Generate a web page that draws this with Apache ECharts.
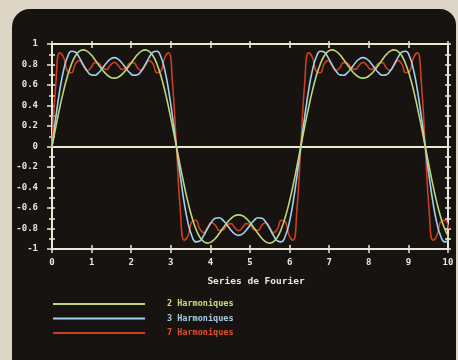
<!DOCTYPE html>
<html>
<head>
<meta charset="utf-8">
<script src="https://cdn.jsdelivr.net/npm/echarts@6/dist/echarts.min.js"></script>
<style>
  html, body { margin: 0; padding: 0; background: #ddd6c6; }
  #screen {
    position: absolute; left: 12px; top: 9px; width: 444px; height: 360px;
    background: #171311; border-radius: 18px 16px 0 0;
  }
  #chart { position: absolute; left: 0; top: 0; width: 458px; height: 360px; }
</style>
</head>
<body>
<div id="screen"></div>
<div id="chart"></div>
<script>
// x positions of the samples (read along the 0..10 axis)
const xs = [0, 0.098, 0.196, 0.295, 0.393, 0.491, 0.589, 0.687, 0.785, 0.884, 0.982, 1.080, 1.178, 1.276, 1.374, 1.473, 1.571,
  1.669, 1.767, 1.865, 1.963, 2.062, 2.160, 2.258, 2.356, 2.454, 2.553, 2.651, 2.749, 2.847, 2.945, 3.043, 3.142,
  3.240, 3.338, 3.436, 3.534, 3.632, 3.731, 3.829, 3.927, 4.025, 4.123, 4.222, 4.320, 4.418, 4.516, 4.614, 4.712,
  4.811, 4.909, 5.007, 5.105, 5.203, 5.301, 5.400, 5.498, 5.596, 5.694, 5.792, 5.890, 5.989, 6.087, 6.185, 6.283,
  6.381, 6.480, 6.578, 6.676, 6.774, 6.872, 6.970, 7.069, 7.167, 7.265, 7.363, 7.461, 7.559, 7.658, 7.756, 7.854,
  7.952, 8.050, 8.149, 8.247, 8.345, 8.443, 8.541, 8.639, 8.738, 8.836, 8.934, 9.032, 9.130, 9.228, 9.327, 9.425,
  9.523, 9.621, 9.719, 9.817, 9.916, 10.014];

const harm2 = [0, 0.195, 0.380, 0.548, 0.691, 0.803, 0.883, 0.928, 0.943, 0.930, 0.897, 0.849, 0.796, 0.745, 0.704, 0.676, 0.667,
  0.676, 0.704, 0.745, 0.796, 0.849, 0.897, 0.930, 0.943, 0.928, 0.883, 0.803, 0.691, 0.548, 0.380, 0.195, 0,
  -0.195, -0.380, -0.548, -0.691, -0.803, -0.883, -0.928, -0.943, -0.930, -0.897, -0.849, -0.796, -0.745, -0.704, -0.676, -0.667,
  -0.676, -0.704, -0.745, -0.796, -0.849, -0.897, -0.930, -0.943, -0.928, -0.883, -0.803, -0.691, -0.548, -0.380, -0.195, 0,
  0.195, 0.380, 0.548, 0.691, 0.803, 0.883, 0.928, 0.943, 0.930, 0.897, 0.849, 0.796, 0.745, 0.704, 0.676, 0.667,
  0.676, 0.704, 0.745, 0.796, 0.849, 0.897, 0.930, 0.943, 0.928, 0.883, 0.803, 0.691, 0.548, 0.380, 0.195, 0,
  -0.195, -0.380, -0.548, -0.691, -0.803, -0.883];

const harm3 = [0, 0.289, 0.547, 0.747, 0.875, 0.930, 0.922, 0.870, 0.801, 0.739, 0.700, 0.695, 0.720, 0.765, 0.815, 0.853, 0.867,
  0.853, 0.815, 0.765, 0.720, 0.695, 0.700, 0.739, 0.801, 0.870, 0.922, 0.930, 0.875, 0.747, 0.547, 0.289, 0,
  -0.289, -0.547, -0.747, -0.875, -0.930, -0.922, -0.870, -0.801, -0.739, -0.700, -0.695, -0.720, -0.765, -0.815, -0.853, -0.867,
  -0.853, -0.815, -0.765, -0.720, -0.695, -0.700, -0.739, -0.801, -0.870, -0.922, -0.930, -0.875, -0.747, -0.547, -0.289, 0,
  0.289, 0.547, 0.747, 0.875, 0.930, 0.922, 0.870, 0.801, 0.739, 0.700, 0.695, 0.720, 0.765, 0.815, 0.853, 0.867,
  0.853, 0.815, 0.765, 0.720, 0.695, 0.700, 0.739, 0.801, 0.870, 0.922, 0.930, 0.875, 0.747, 0.547, 0.289, 0,
  -0.289, -0.547, -0.747, -0.875, -0.930, -0.922];

const harm7 = [0, 0.619, 0.914, 0.868, 0.733, 0.719, 0.804, 0.840, 0.789, 0.741, 0.767, 0.818, 0.813, 0.765, 0.752, 0.792, 0.821,
  0.792, 0.752, 0.765, 0.813, 0.818, 0.767, 0.741, 0.789, 0.840, 0.804, 0.719, 0.733, 0.868, 0.914, 0.619, 0,
  -0.619, -0.914, -0.868, -0.733, -0.719, -0.804, -0.840, -0.789, -0.741, -0.767, -0.818, -0.813, -0.765, -0.752, -0.792, -0.821,
  -0.792, -0.752, -0.765, -0.813, -0.818, -0.767, -0.741, -0.789, -0.840, -0.804, -0.719, -0.733, -0.868, -0.914, -0.619, 0,
  0.619, 0.914, 0.868, 0.733, 0.719, 0.804, 0.840, 0.789, 0.741, 0.767, 0.818, 0.813, 0.765, 0.752, 0.792, 0.821,
  0.792, 0.752, 0.765, 0.813, 0.818, 0.767, 0.741, 0.789, 0.840, 0.804, 0.719, 0.733, 0.868, 0.914, 0.619, 0,
  -0.619, -0.914, -0.868, -0.733, -0.719, -0.804];

const names = ["2 Harmoniques", "3 Harmoniques", "7 Harmoniques"];
const lineColors = ["#bcd878", "#a0d2ee", "#cc3e20"];
const textColors = ["#cadd78", "#a8cce4", "#e0502c"];

const axisColor = "#ebe8d6";
const font = "DejaVu Sans Mono";

const pairs = (ys) => xs.map((x, i) => [x, ys[i]]);

const myChart = echarts.init(document.getElementById("chart"), null, { renderer: "canvas" });

// x axes: bottom (labels + outer ticks), bottom inner ticks, zero line, top frame
const xBase = { type: "value", min: 0, max: 10, interval: 1, splitLine: { show: false } };
const yBase = { type: "value", min: -1, max: 1, interval: 0.2, splitLine: { show: false } };
const line = { color: axisColor, width: 2 };
const tick = { color: axisColor, width: 1.5 };

let option = {
  animation: false,
  grid: { left: 52, right: 10, top: 44, bottom: 111 },
  legend: {
    orient: "vertical",
    left: 48,
    top: 293,
    icon: "rect",
    itemWidth: 92,
    itemHeight: 2,
    itemGap: 2.5,
    textStyle: { fontFamily: font, fontWeight: "bold", fontSize: 8.5, lineHeight: 12, padding: [0, 0, 0, 17] },
    data: names.map((n, i) => ({ name: n, textStyle: { color: textColors[i] } })),
  },
  xAxis: [
    Object.assign({}, xBase, {
      position: "bottom",
      axisLine: { onZero: false, lineStyle: line },
      axisTick: { length: 4, lineStyle: tick },
      axisLabel: { color: axisColor, fontFamily: font, fontWeight: "bold", fontSize: 9, margin: 9 },
      name: "Series de Fourier",
      nameLocation: "middle",
      nameGap: 28,
      nameTextStyle: { color: axisColor, fontFamily: font, fontWeight: "bold", fontSize: 9.5, padding: [0, 0, 0, 12] },
    }),
    Object.assign({}, xBase, {
      position: "bottom",
      axisLine: { show: false, onZero: false },
      axisTick: { inside: true, length: 4, lineStyle: tick },
      axisLabel: { show: false },
    }),
    Object.assign({}, xBase, {
      position: "bottom",
      axisLine: { onZero: true, lineStyle: line },
      axisTick: { show: false },
      axisLabel: { show: false },
    }),
    Object.assign({}, xBase, {
      position: "top",
      axisLine: { onZero: false, lineStyle: line },
      axisTick: { length: 3, lineStyle: tick },
      axisLabel: { show: false },
    }),
    Object.assign({}, xBase, {
      position: "top",
      axisLine: { show: false, onZero: false },
      axisTick: { inside: true, length: 4, lineStyle: tick },
      axisLabel: { show: false },
    }),
  ],
  yAxis: [
    Object.assign({}, yBase, {
      position: "left",
      axisLine: { onZero: false, lineStyle: line },
      axisTick: { length: 5, lineStyle: tick },
      minorTick: { show: true, splitNumber: 2, length: 3, lineStyle: tick },
      axisLabel: { color: axisColor, fontFamily: font, fontWeight: "bold", fontSize: 9, margin: 14 },
    }),
    Object.assign({}, yBase, {
      position: "left",
      axisLine: { show: false, onZero: false },
      axisTick: { inside: true, length: 3, lineStyle: tick },
      minorTick: { show: true, splitNumber: 2, length: 3, lineStyle: tick },
      axisLabel: { show: false },
    }),
    Object.assign({}, yBase, {
      position: "right",
      axisLine: { onZero: false, lineStyle: line },
      axisTick: { length: 3, lineStyle: tick },
      minorTick: { show: true, splitNumber: 2, length: 3, lineStyle: tick },
      axisLabel: { show: false },
    }),
    Object.assign({}, yBase, {
      position: "right",
      axisLine: { show: false, onZero: false },
      axisTick: { inside: true, length: 3, lineStyle: tick },
      minorTick: { show: true, splitNumber: 2, length: 3, lineStyle: tick },
      axisLabel: { show: false },
    }),
  ],
  series: [harm2, harm3, harm7].map((ys, i) => ({
    name: names[i],
    type: "line",
    data: pairs(ys),
    smooth: true,
    showSymbol: false,
    color: lineColors[i],
    lineStyle: { color: lineColors[i], width: 1.6 },
    z: 3 - i,
  })),
};

myChart.setOption(option);
</script>
</body>
</html>
